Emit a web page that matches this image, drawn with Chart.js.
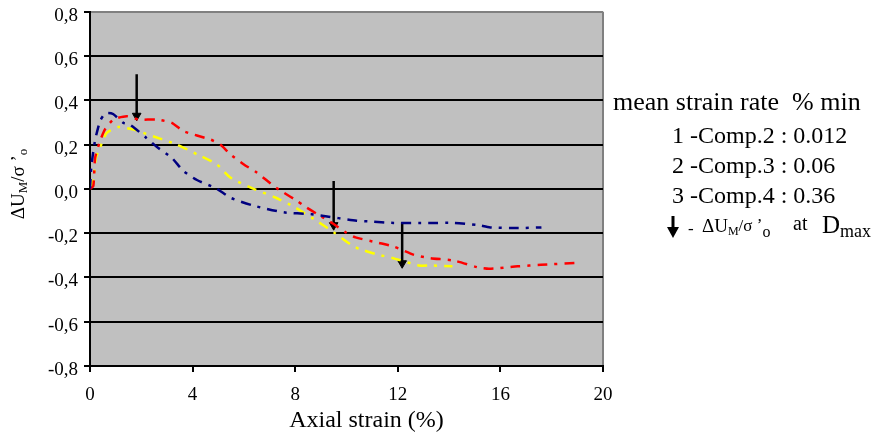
<!DOCTYPE html>
<html>
<head>
<meta charset="utf-8">
<script src="https://cdn.jsdelivr.net/npm/chart.js@4/dist/chart.umd.min.js"></script>
<style>
html,body{margin:0;padding:0;background:#fff;}
#wrap{width:875px;height:434px;position:relative;}
</style>
</head>
<body>
<div id="wrap"><canvas id="c" width="875" height="434"></canvas></div>
<script>
// Comp.2 (blue), strain rate 0.012 % / min
const blueX = [0, 0.05, 0.2, 0.39, 0.55, 0.7, 0.9, 1.3, 1.56, 2.2, 2.6, 3.19, 3.65, 4.17, 4.95, 5.47, 6.38, 7.55, 8.6, 8.98, 10.4, 10.87, 11.85, 13.2, 14.2, 15.1, 15.6, 16.7, 17.6];
const blueY = [0, 0.1, 0.22, 0.306, 0.335, 0.343, 0.338, 0.298, 0.29, 0.23, 0.19, 0.14, 0.08, 0.04, 0, -0.04, -0.076, -0.106, -0.114, -0.12, -0.144, -0.147, -0.154, -0.154, -0.154, -0.163, -0.174, -0.177, -0.174];
// Comp.3 (red), strain rate 0.06 % / min
const redX = [0, 0.13, 0.2, 0.39, 0.59, 0.91, 1.43, 1.89, 2.6, 3.19, 3.65, 4.69, 5.08, 5.47, 6.0, 6.51, 7.16, 7.55, 8.07, 8.33, 8.86, 9.5, 9.96, 10.35, 11.26, 11.85, 12.63, 13.28, 14.19, 15.1, 15.56, 16.67, 17.58, 19.0];
const redY = [0, 0.013, 0.14, 0.216, 0.27, 0.313, 0.328, 0.313, 0.313, 0.298, 0.26, 0.223, 0.2, 0.156, 0.11, 0.073, 0.013, -0.017, -0.054, -0.076, -0.114, -0.159, -0.196, -0.219, -0.244, -0.261, -0.298, -0.313, -0.324, -0.354, -0.361, -0.35, -0.343, -0.334];
// Comp.4 (yellow), strain rate 0.36 % / min
const yellowX = [0, 0.13, 0.23, 0.39, 0.65, 1.1, 1.69, 2.08, 2.54, 3.39, 4.17, 4.95, 5.47, 6.38, 7.23, 8.0, 8.72, 9.5, 10.22, 10.48, 11.26, 11.78, 12.82, 13.28, 14.13];
const yellowY = [0, 0.043, 0.14, 0.186, 0.253, 0.279, 0.268, 0.253, 0.234, 0.2, 0.156, 0.11, 0.051, 0, -0.039, -0.084, -0.136, -0.196, -0.256, -0.271, -0.298, -0.312, -0.346, -0.346, -0.35];
// Arrows: ΔU_M/σ'_o at D_max
const arrowX = [1.82, 9.5, 12.17];
const arrowTop = [0.517, 0.036, -0.151];
const arrowTip = [0.33, -0.164, -0.336];

const xTicks = [0, 4, 8, 12, 16, 20];
const yTicks = [-0.8, -0.6, -0.4, -0.2, 0, 0.2, 0.4, 0.6, 0.8];

const legendTitle = 'mean strain rate  % min';
const legendRows = ['1 -Comp.2 : 0.012', '2 -Comp.3 : 0.06', '3 -Comp.4 : 0.36'];
const xTitle = 'Axial strain (%)';

const zip = (xs, ys) => xs.map((x, i) => ({x: x, y: ys[i]}));
const SERIF = '"Liberation Serif", "DejaVu Serif", serif';

function seriesDs(xs, ys, color) {
  return {
    data: zip(xs, ys), showLine: true, borderColor: color, backgroundColor: color,
    borderWidth: 2.5, borderDash: [10, 7, 3, 7], pointRadius: 0, tension: 0.2, fill: false
  };
}
const datasets = [
  seriesDs(blueX, blueY, '#000080'),
  seriesDs(redX, redY, '#ff0000'),
  seriesDs(yellowX, yellowY, '#ffff00')
];
arrowX.forEach((x, i) => {
  datasets.push({
    data: [{x: x, y: arrowTop[i]}, {x: x, y: arrowTip[i]}],
    showLine: true, borderColor: '#000', backgroundColor: '#000', borderWidth: 2.5,
    pointRadius: [0, 5], pointStyle: 'triangle', rotation: 180, pointBorderWidth: 1
  });
});

const bgPlugin = {
  id: 'bg',
  beforeDraw(chart) {
    const {ctx, chartArea: a} = chart;
    ctx.save();
    ctx.fillStyle = '#c0c0c0';
    ctx.fillRect(a.left, a.top, a.right - a.left, a.bottom - a.top);
    ctx.restore();
  }
};

function drawSub(ctx, parts, x, y) {
  let cx = x;
  parts.forEach(p => {
    ctx.font = p[1] + 'px ' + SERIF;
    ctx.fillText(p[0], cx, y + p[2]);
    cx += ctx.measureText(p[0]).width;
  });
  return cx;
}
function subWidth(ctx, parts) {
  let w = 0;
  parts.forEach(p => { ctx.font = p[1] + 'px ' + SERIF; w += ctx.measureText(p[0]).width; });
  return w;
}

const textPlugin = {
  id: 'texts',
  afterDraw(chart) {
    const {ctx, chartArea: a} = chart;
    ctx.save();
    ctx.fillStyle = '#000';
    ctx.textBaseline = 'middle';
    ctx.textAlign = 'left';
    // x-axis title
    ctx.font = '24px ' + SERIF;
    ctx.textAlign = 'center';
    ctx.fillText(xTitle, (a.left + a.right) / 2 + 20, 421);
    ctx.textAlign = 'left';
    // y-axis title (rotated)
    ctx.save();
    ctx.translate(19, 184);
    ctx.rotate(-Math.PI / 2);
    const yParts = [['\u0394U', 19, 0], ['M', 13, 5], ['/\u03c3 \u2019', 19, 0], ['o', 13, 5]];
    const w = subWidth(ctx, yParts);
    drawSub(ctx, yParts, -w / 2, 0);
    ctx.restore();
    // legend
    ctx.font = '26px ' + SERIF;
    ctx.fillText(legendTitle, 613, 103);
    legendRows.forEach((t, i) => {
      ctx.font = '24px ' + SERIF;
      ctx.fillText(t, 672, 137 + i * 30);
    });
    // legend arrow
    const ax = 673, ay = 227;
    ctx.strokeStyle = '#000';
    ctx.lineWidth = 3;
    ctx.beginPath(); ctx.moveTo(ax, ay - 11); ctx.lineTo(ax, ay + 2); ctx.stroke();
    ctx.beginPath(); ctx.moveTo(ax - 6, ay); ctx.lineTo(ax + 6, ay); ctx.lineTo(ax, ay + 11); ctx.closePath(); ctx.fill();
    drawSub(ctx, [['-', 17, 3]], 688, 227);
    drawSub(ctx, [['\u0394U', 19, 0], ['M', 12, 5], ['/\u03c3', 17, 0], [' \u2019', 17, -1], ['o', 16, 6]], 702, 227);
    drawSub(ctx, [['at', 20, -2]], 793, 227);
    drawSub(ctx, [['D', 25, -1], ['max', 18, 5]], 822, 227);
    ctx.restore();
  }
};

new Chart(document.getElementById('c'), {
  type: 'scatter',
  data: {datasets: datasets},
  plugins: [bgPlugin, textPlugin],
  options: {
    responsive: false,
    animation: false,
    layout: {padding: {top: 10, right: 272, left: 0, bottom: 0}},
    plugins: {legend: {display: false}, tooltip: {enabled: false}, title: {display: false}},
    scales: {
      x: {
        type: 'linear', min: 0, max: 20,
        afterFit(s) { s.height = 68; },
        afterBuildTicks(s) { s.ticks = xTicks.map(v => ({value: v})); },
        border: {color: '#000', width: 2},
        grid: {
          color: c => (c.tick && c.tick.value === 20) ? '#808080' : 'rgba(0,0,0,0)',
          lineWidth: 2, tickColor: '#000', tickLength: 6, drawTicks: true
        },
        ticks: {color: '#000', font: {family: SERIF, size: 19}, padding: 12, maxRotation: 0,
          callback: v => String(v)}
      },
      y: {
        type: 'linear', min: -0.8, max: 0.8,
        afterFit(s) { s.width = 90; },
        afterBuildTicks(s) { s.ticks = yTicks.map(v => ({value: v})); },
        border: {color: '#000', width: 2},
        grid: {
          color: c => (c.tick && Math.abs(c.tick.value - 0.8) < 1e-6) ? '#808080' : '#000',
          lineWidth: 2, tickColor: '#000', tickLength: 6
        },
        ticks: {color: '#000', font: {family: SERIF, size: 19, lineHeight: 0.6}, padding: 6, labelOffset: 4,
          callback: v => (Math.abs(v) < 1e-9 ? 0 : v).toFixed(1).replace('.', ',')}
      }
    }
  }
});
</script>
</body>
</html>
